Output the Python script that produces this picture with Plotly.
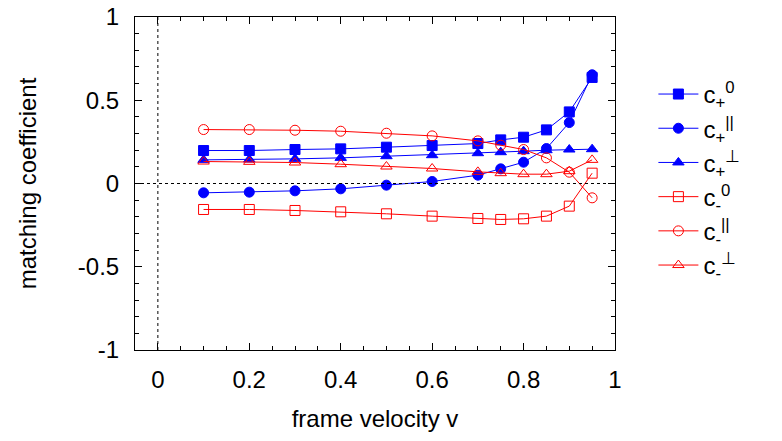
import plotly.graph_objects as go

v = [0.1, 0.2, 0.3, 0.4, 0.5, 0.6, 0.7, 0.75, 0.8, 0.85, 0.9, 0.95]

c_plus_0 = [0.198, 0.198, 0.204, 0.208, 0.218, 0.228, 0.240, 0.262, 0.278, 0.322, 0.430, 0.637]
c_plus_par = [-0.056, -0.052, -0.044, -0.032, -0.010, 0.012, 0.050, 0.088, 0.128, 0.210, 0.366, 0.653]
c_plus_perp = [0.142, 0.144, 0.148, 0.154, 0.164, 0.170, 0.182, 0.188, 0.194, 0.200, 0.204, 0.206]
c_minus_0 = [-0.156, -0.156, -0.162, -0.170, -0.182, -0.196, -0.210, -0.216, -0.212, -0.196, -0.136, 0.062]
c_minus_par = [0.324, 0.324, 0.320, 0.314, 0.302, 0.286, 0.256, 0.230, 0.204, 0.154, 0.068, -0.086]
c_minus_perp = [0.132, 0.130, 0.126, 0.116, 0.102, 0.090, 0.070, 0.062, 0.056, 0.056, 0.074, 0.142]

labels = ["c<sub>+</sub><sup>0</sup>", "c<sub>+</sub><sup>||</sup>", "c<sub>+</sub><sup>⊥</sup>",
          "c<sub>-</sub><sup>0</sup>", "c<sub>-</sub><sup>||</sup>", "c<sub>-</sub><sup>⊥</sup>"]

x_tickvals = [0, 0.2, 0.4, 0.6, 0.8, 1]
x_ticktext = ["0", "0.2", "0.4", "0.6", "0.8", "1"]
y_tickvals = [-1, -0.5, 0, 0.5, 1]
y_ticktext = ["-1", "-0.5", "0", "0.5", "1"]

BLUE = "#0000ff"
RED = "#ff0000"
series = [
    (c_plus_0, BLUE, "square"),
    (c_plus_par, BLUE, "circle"),
    (c_plus_perp, BLUE, "triangle-up"),
    (c_minus_0, RED, "square-open"),
    (c_minus_par, RED, "circle-open"),
    (c_minus_perp, RED, "triangle-up-open"),
]

fig = go.Figure()
for (vals, col, sym), name in zip(series, labels):
    fig.add_trace(go.Scatter(
        x=v, y=vals, mode="lines+markers", name=name,
        line=dict(color=col, width=1),
        marker=dict(symbol=sym, size=10, color=col, line=dict(color=col, width=1)),
    ))

FONT = "Liberation Sans, Arial, sans-serif"
axis_common = dict(
    showgrid=False, zeroline=False, showline=True, linecolor="black", linewidth=1,
    mirror="ticks", ticks="inside", ticklen=7, tickwidth=1, tickcolor="black",
    tickfont=dict(family=FONT, size=24, color="black"), automargin=False,
)
fig.update_xaxes(range=[-0.05, 1.0], tickvals=x_tickvals, ticktext=x_ticktext,
                 ticklabelstandoff=8,
                 title=dict(text="frame velocity v", font=dict(family=FONT, size=24, color="black"), standoff=18),
                 minor=dict(ticks="inside", ticklen=4, tick0=0, dtick=0.05, tickcolor="black"),
                 **axis_common)
fig.update_yaxes(range=[-1, 1], tickvals=y_tickvals, ticktext=y_ticktext,
                 ticklabelstandoff=10,
                 title=dict(text="matching coefficient", font=dict(family=FONT, size=24, color="black"), standoff=34),
                 minor=dict(ticks="inside", ticklen=4, tick0=0, dtick=0.1, tickcolor="black"),
                 **axis_common)

# dotted reference lines through zero
fig.add_shape(type="line", xref="paper", yref="y", x0=0, x1=1, y0=0, y1=0,
              line=dict(color="black", width=1, dash="dot"))
fig.add_shape(type="line", xref="x", yref="paper", x0=0, x1=0, y0=0, y1=1,
              line=dict(color="black", width=1, dash="dot"))

fig.update_layout(
    width=782, height=441,
    margin=dict(l=135, r=167, t=17, b=91),
    paper_bgcolor="white", plot_bgcolor="white",
    font=dict(family=FONT, color="black"),
    legend=dict(x=1.08, y=0.835, xanchor="left", yanchor="top",
                font=dict(family=FONT, size=24, color="black"),
                tracegroupgap=0, itemwidth=40, bgcolor="rgba(0,0,0,0)"),
)

fig.write_html("out.html")
